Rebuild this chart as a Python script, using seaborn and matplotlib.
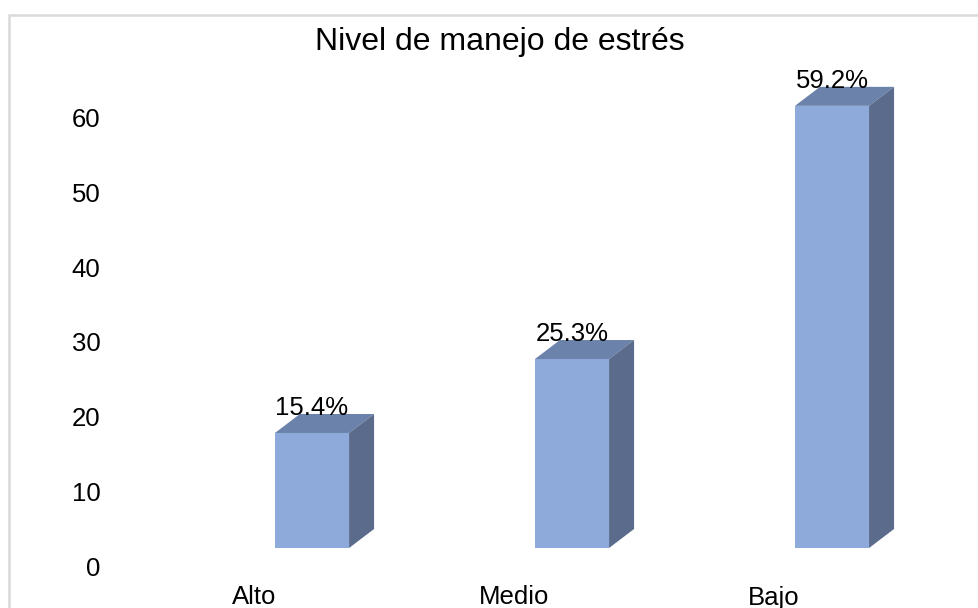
import matplotlib
matplotlib.use("Agg")
import matplotlib.pyplot as plt
import matplotlib.transforms as mtransforms
from matplotlib.patches import Polygon, Rectangle
import seaborn as sns
import pandas as pd

categories = ["Alto", "Medio", "Bajo"]
values = [15.4, 25.3, 59.2]
value_labels = ["15.4%", "25.3%", "59.2%"]
yticks = [0, 10, 20, 30, 40, 50, 60]
title = "Nivel de manejo de estrés"

sns.set_theme(style="white")
plt.rcParams['font.family'] = ['Liberation Sans', 'DejaVu Sans']

W, H = 979, 608
fig = plt.figure(figsize=(W / 100, H / 100), dpi=100)
fig.patch.set_facecolor("white")

# chart frame (light gray, only top/left visible)
fig.add_artist(Rectangle((9 / W, -0.1), 1.2, (H - 15) / H + 0.1, transform=fig.transFigure,
                         fill=False, edgecolor="#d9d9d9", linewidth=1.8))

ax_left, ax_right = 110, 962
ax_bottom, ax_top = 548, 70
ax = fig.add_axes([ax_left / W, (H - ax_bottom) / H, (ax_right - ax_left) / W, (ax_bottom - ax_top) / H])

front = "#8eaadb"
top_c = "#6b82ab"
side_c = "#5b6b8b"

df = pd.DataFrame({"cat": categories, "val": values})
sns.barplot(data=df, x="cat", y="val", color=front, width=0.285, saturation=1, ax=ax, linewidth=0)

ax.set_xlim(-0.777, 2.5)
ax.set_ylim(0, 64)
for s in ax.spines.values():
    s.set_visible(False)
ax.set_xlabel("")
ax.set_ylabel("")
ax.set_yticks(yticks)
ax.set_yticklabels([str(t) for t in yticks])
ax.tick_params(axis="both", length=0, labelsize=18.5, colors="black")
ax.tick_params(axis="y", pad=7)
ax.tick_params(axis="x", pad=27)

# depth of the 3D look in pixels
ddx, ddy = 25, 19
inv = ax.transData.inverted()
o = inv.transform((0, 0))
d = inv.transform((ddx, ddy))
dx_d, dy_d = d[0] - o[0], d[1] - o[1]

for p, lab in zip(ax.patches, value_labels):
    x0 = p.get_x()
    w = p.get_width()
    h = p.get_height()
    x1 = x0 + w
    top = Polygon([(x0, h), (x1, h), (x1 + dx_d, h + dy_d), (x0 + dx_d, h + dy_d)],
                  closed=True, facecolor=top_c, edgecolor="none", clip_on=False)
    side = Polygon([(x1, 0), (x1 + dx_d, dy_d), (x1 + dx_d, h + dy_d), (x1, h)],
                   closed=True, facecolor=side_c, edgecolor="none", clip_on=False)
    ax.add_patch(top)
    ax.add_patch(side)
    ax.text(x0 + w / 2, h + dy_d * 0.95, lab, ha="center", va="baseline",
            fontsize=18.5, color="black", clip_on=False)

# shift tick labels to mimic the 3D layout
yoff = mtransforms.ScaledTranslation(0, -18 / 100, fig.dpi_scale_trans)
for lbl in ax.get_yticklabels():
    lbl.set_transform(lbl.get_transform() + yoff)
xoff = mtransforms.ScaledTranslation(-58 / 100, 0, fig.dpi_scale_trans)
for lbl in ax.get_xticklabels():
    lbl.set_transform(lbl.get_transform() + xoff)

fig.text(500 / W, 1 - 42 / H, title, ha="center", va="center", fontsize=23, color="black")

fig.savefig("out.png", dpi=100, facecolor="white")
